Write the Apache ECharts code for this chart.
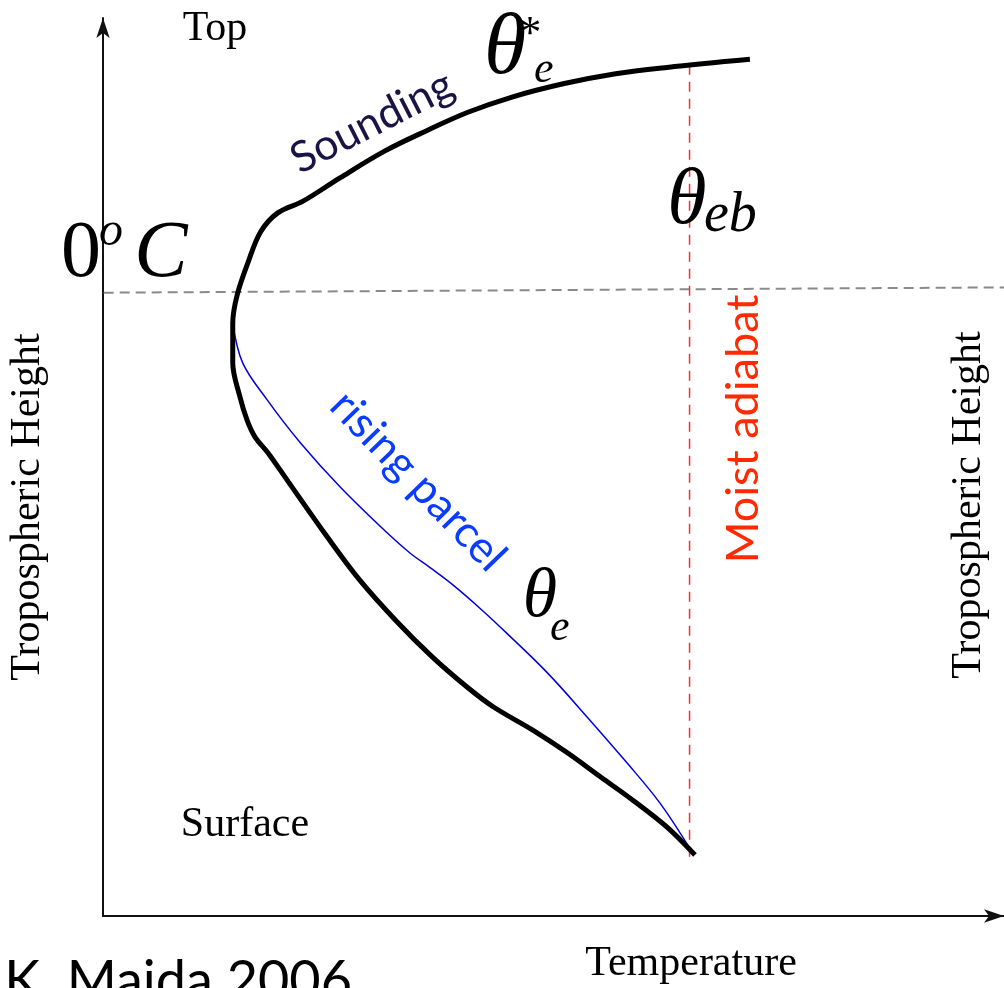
<!DOCTYPE html>
<html>
<head>
<meta charset="utf-8">
<script src="https://cdn.jsdelivr.net/npm/echarts@6/dist/echarts.min.js"></script>
<style>
html,body{margin:0;padding:0;background:#fff;}
#c{width:1004px;height:988px;}
</style>
</head>
<body>
<div id="c"></div>
<script>
// Sounding (theta_e / theta_e*) profile, top to surface: temperature-like x, height y (0-100 units)
const soundingX = [71.8, 62.6, 56.9, 51.2, 45.4, 40.5, 35.8, 31.3, 26.3, 22.2, 19.4, 17.5, 16.1, 14.9, 14.4, 14.4, 15.2, 16.0, 16.9, 18.3, 20.4, 24.9, 28.5, 32.6, 36.6, 40.4, 43.3, 47.7, 51.5, 55.2, 58.8, 62.6, 65.7];
const soundingY = [95.4, 94.5, 93.8, 92.7, 91.2, 89.5, 87.4, 85.2, 82.2, 79.6, 78.3, 76.2, 72.8, 69.2, 66.0, 61.6, 57.8, 55.2, 53.3, 51.6, 48.6, 42.2, 37.4, 32.8, 28.8, 25.5, 23.3, 20.7, 18.2, 15.5, 12.9, 9.9, 6.8];
// Rising parcel, from freezing level down to surface
const parcelX = [14.4, 15.5, 18.2, 21.9, 26.3, 31.5, 34.1, 36.3, 38.8, 41.8, 44.8, 49.3, 53.7, 58.2, 61.8, 64.9];
const parcelY = [66.0, 61.6, 57.5, 52.7, 47.8, 42.7, 40.4, 38.8, 36.9, 34.3, 31.5, 27.1, 22.2, 17.0, 12.6, 7.9];
// Moist adiabat (vertical) and 0°C level
const moistX = [65.1, 65.1];
const moistY = [94.8, 6.6];
const freezeX = [-1.7, 100];
const freezeY = [69.4, 70.0];

const zip = (a, b) => a.map((v, i) => [v, b[i]]);

const chart = echarts.init(document.getElementById('c'), null, {renderer: 'canvas'});
const serif = '"Liberation Serif", "DejaVu Serif", serif';
const sans = 'Lato, "Open Sans", sans-serif';
const deg = Math.PI / 180;

function txt(text, x, y, size, opts) {
  opts = opts || {};
  return {
    type: 'text', x: x, y: y, rotation: opts.rot || 0, silent: true, z: 100,
    style: {
      text: text, fontSize: size, fontFamily: opts.family || serif,
      fontStyle: opts.italic ? 'italic' : 'normal',
      fontWeight: 'normal',
      fill: opts.color || '#000',
      align: opts.align || 'center', verticalAlign: 'middle'
    }
  };
}

chart.setOption({
  animation: false,
  backgroundColor: '#fff',
  grid: {left: 103, right: 0, top: 18, bottom: 72, containLabel: false},
  xAxis: {
    type: 'value', min: 0, max: 100,
    axisLine: {show: true, symbol: ['none', 'arrow'], symbolSize: [10, 20], lineStyle: {color: '#111', width: 2}},
    axisTick: {show: false}, axisLabel: {show: false}, splitLine: {show: false}
  },
  yAxis: {
    type: 'value', min: 0, max: 100,
    axisLine: {show: true, symbol: ['none', 'arrow'], symbolSize: [10, 20], lineStyle: {color: '#111', width: 2}},
    axisTick: {show: false}, axisLabel: {show: false}, splitLine: {show: false}
  },
  series: [
    {
      type: 'line', name: 'freezing', data: zip(freezeX, freezeY), showSymbol: false, clip: false, silent: true,
      lineStyle: {color: '#8a8a8a', width: 2, type: [10, 6]}, z: 1
    },
    {
      type: 'line', name: 'moist', data: zip(moistX, moistY), showSymbol: false, silent: true,
      lineStyle: {color: '#ff2a2a', width: 1.5, type: [10, 7]}, z: 2
    },
    {
      type: 'line', name: 'parcel', data: zip(parcelX, parcelY), showSymbol: false, silent: true, smooth: 0.35,
      lineStyle: {color: '#0000dd', width: 1.5}, z: 3
    },
    {
      type: 'line', name: 'sounding', data: zip(soundingX, soundingY), showSymbol: false, silent: true, smooth: 0.35,
      lineStyle: {color: '#000', width: 5}, z: 4
    }
  ],
  graphic: [
    txt('Top', 215, 29, 42),
    txt('Surface', 245, 825, 42),
    txt('Temperature', 691, 964, 42),
    txt('Tropospheric Height', 28, 507, 42, {rot: 90 * deg}),
    txt('Tropospheric Height', 969, 505, 42, {rot: 90 * deg}),
    // 0°C
    txt('0', 81, 255, 80),
    txt('o', 111, 232, 48, {italic: true}),
    txt('C', 161, 255, 80, {italic: true}),
    // theta_e*
    txt('θ', 505, 50, 86, {italic: true}),
    txt('*', 530, 36, 46),
    txt('e', 534, 70, 44, {italic: true, align: 'left'}),
    // theta_eb
    txt('θ', 687, 202, 80, {italic: true}),
    txt('eb', 704, 216, 56, {italic: true, align: 'left'}),
    // theta_e
    txt('θ', 540, 598, 70, {italic: true}),
    txt('e', 550, 628, 44, {italic: true, align: 'left'}),
    // curve labels
    txt('Sounding', 372, 122, 43, {family: sans, color: '#1a1446', rot: 27 * deg}),
    txt('rising parcel', 418, 481, 44, {family: sans, color: '#0a3cff', rot: -46 * deg}),
    txt('Moist adiabat', 743, 429, 45, {family: sans, color: '#ff2a00', rot: 90 * deg}),
    txt('K. Majda 2006', 352, 982, 54, {family: sans, align: 'right'})
  ]
});
</script>
</body>
</html>
